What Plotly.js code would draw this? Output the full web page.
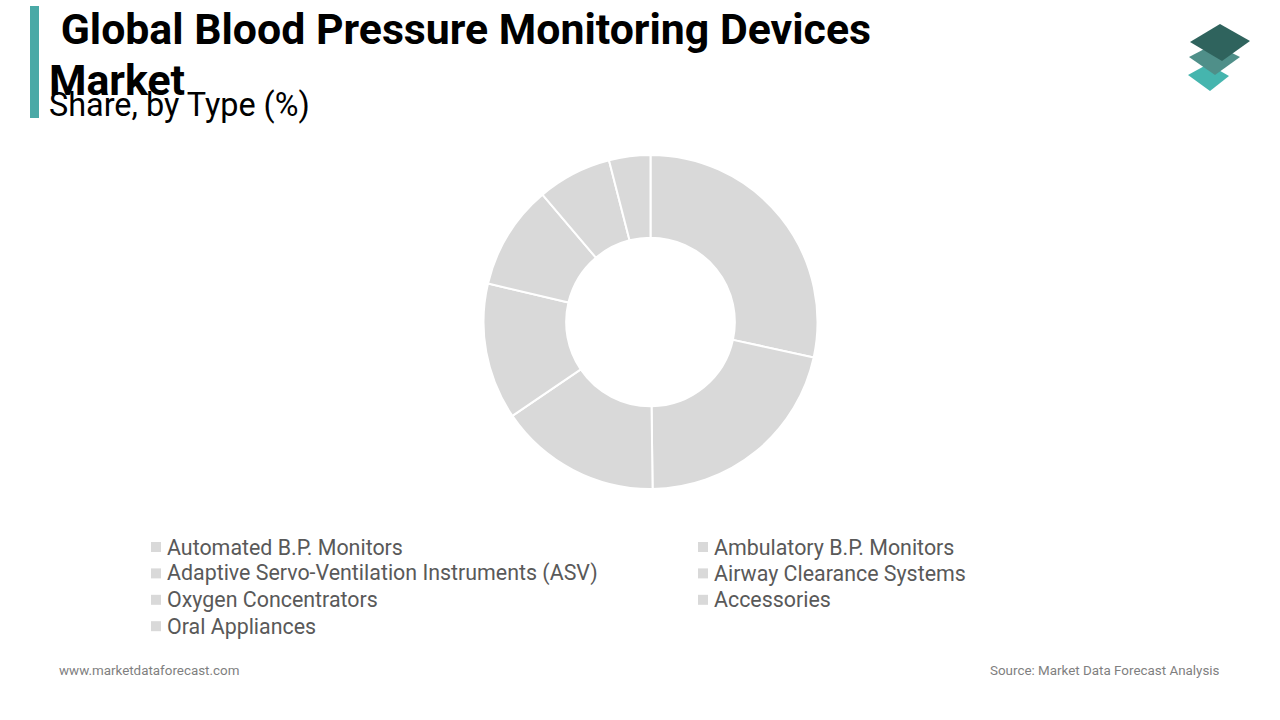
<!DOCTYPE html>
<html>
<head>
<meta charset="utf-8">
<script src="https://cdn.plot.ly/plotly-3.0.1.min.js"></script>
<style>
html,body{margin:0;padding:0;background:#fff;}
#chart{width:1280px;height:720px;}
</style>
</head>
<body>
<div id="chart"></div>
<script>
const categories = [
  "Automated B.P. Monitors",
  "Ambulatory B.P. Monitors",
  "Adaptive Servo-Ventilation Instruments (ASV)",
  "Airway Clearance Systems",
  "Oxygen Concentrators",
  "Accessories",
  "Oral Appliances"
];
const shares = [28.4, 21.4, 15.7, 13.2, 10.1, 7.2, 4.0];
const sliceColors = ["#d9d9d9","#d9d9d9","#d9d9d9","#d9d9d9","#d9d9d9","#d9d9d9","#d9d9d9"];

const W = 1280, H = 720;
const px = x => x / W;
const py = y => 1 - y / H;

const cx = 650.5, cy = 322, R = 167;

const trace = {
  type: "pie",
  labels: categories,
  values: shares,
  hole: 0.505,
  sort: false,
  direction: "clockwise",
  rotation: 0,
  textinfo: "none",
  hoverinfo: "label+percent",
  marker: {colors: sliceColors, line: {color: "#ffffff", width: 2}},
  domain: {x: [px(cx - R), px(cx + R)], y: [py(cy + R), py(cy - R)]},
  showlegend: false
};

function poly(pts, color) {
  let d = "M" + pts.map(p => px(p[0]) + "," + py(p[1])).join(" L") + " Z";
  return {type: "path", xref: "paper", yref: "paper", path: d,
          fillcolor: color, line: {width: 0}, layer: "above"};
}

const shapes = [
  {type: "rect", xref: "paper", yref: "paper",
   x0: px(30), x1: px(39), y0: py(118), y1: py(6),
   fillcolor: "#4aa9a6", line: {width: 0}},
  poly([[1188,75],[1208,64],[1229,76],[1210,91]], "#45b5ae"),
  poly([[1189,57],[1214,44],[1240,57],[1215,75]], "#4f8f89"),
  poly([[1190,42],[1220,24],[1250,41],[1222,61]], "#2f635d")
];

const annotations = [
  {text: "<b> Global Blood Pressure Monitoring Devices</b>",
   xref: "paper", yref: "paper", x: px(48), y: py(29),
   xanchor: "left", yanchor: "middle", align: "left", showarrow: false,
   font: {family: "Roboto, sans-serif", size: 42.8, color: "#000000"}},
  {text: "<b>Market</b>",
   xref: "paper", yref: "paper", x: px(47), y: py(80),
   xanchor: "left", yanchor: "middle", align: "left", showarrow: false,
   font: {family: "Roboto, sans-serif", size: 42.8, color: "#000000"}},
  {text: "Share, by Type (%)",
   xref: "paper", yref: "paper", x: px(47), y: py(105),
   xanchor: "left", yanchor: "middle", align: "left", showarrow: false,
   font: {family: "Roboto, sans-serif", size: 32.4, color: "#000000"}},
  {text: "www.marketdataforecast.com",
   xref: "paper", yref: "paper", x: px(57), y: py(670),
   xanchor: "left", yanchor: "middle", showarrow: false,
   font: {family: "Roboto, sans-serif", size: 13.4, color: "#7f7f7f"}},
  {text: "Source: Market Data Forecast Analysis",
   xref: "paper", yref: "paper", x: px(1222), y: py(670),
   xanchor: "right", yanchor: "middle", showarrow: false,
   font: {family: "Roboto, sans-serif", size: 13.4, color: "#7f7f7f"}}
];

// Legend (two columns) built from the category list
const legX0 = 151, legColW = 547, legY0 = 547, legRowH = 26.4;
categories.forEach((c, i) => {
  const col = i % 2, row = Math.floor(i / 2);
  const xm = legX0 + col * legColW, ym = legY0 + row * legRowH;
  shapes.push({type: "rect", xref: "paper", yref: "paper",
    x0: px(xm), x1: px(xm + 10), y0: py(ym + 5), y1: py(ym - 5),
    fillcolor: sliceColors[i], line: {width: 0}});
  annotations.push({text: c, xref: "paper", yref: "paper",
    x: px(xm + 14), y: py(ym), xanchor: "left", yanchor: "middle",
    showarrow: false,
    font: {family: "Roboto, sans-serif", size: 21.4, color: "#595959"}});
});

const layout = {
  width: W, height: H,
  margin: {l: 0, r: 0, t: 0, b: 0, autoexpand: false},
  paper_bgcolor: "#ffffff",
  plot_bgcolor: "#ffffff",
  font: {family: "Roboto, 'Open Sans', sans-serif", color: "#595959"},
  showlegend: false,
  shapes: shapes,
  annotations: annotations
};

Plotly.newPlot("chart", [trace], layout, {displayModeBar: false, staticPlot: true});
</script>
</body>
</html>
